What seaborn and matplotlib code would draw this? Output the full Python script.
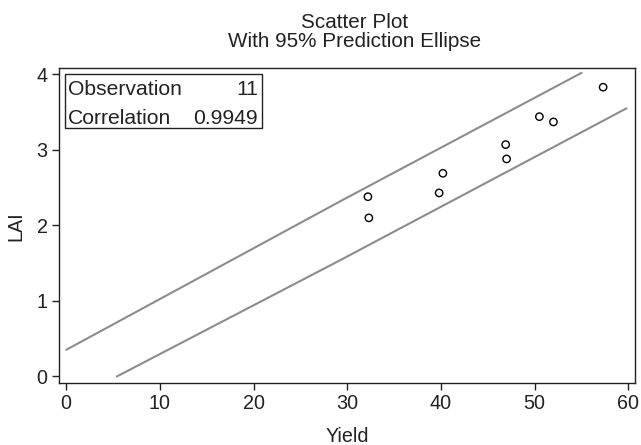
import numpy as np
import pandas as pd
import seaborn as sns
import matplotlib.pyplot as plt
from matplotlib.patches import Rectangle

# data
yield_vals = [32.2, 32.3, 39.8, 40.2, 46.9, 47.0, 50.5, 52.0, 57.3, 46.9, 32.2]
lai_vals = [2.38, 2.10, 2.43, 2.69, 3.07, 2.88, 3.44, 3.37, 3.83, 3.07, 2.38]

# visible parts of the 95% prediction ellipse
upper_x = [0.0, 29.4, 55.0]
upper_y = [0.353, 2.33, 4.02]
lower_x = [5.4, 29.4, 59.8]
lower_y = [0.0, 1.55, 3.55]

stats_labels = ['Observation', 'Correlation']
stats_values = ['11', '0.9949']

xticks = [0, 10, 20, 30, 40, 50, 60]
yticks = [0, 1, 2, 3, 4]

sns.set_style('white')
plt.rcParams['font.family'] = ['Liberation Sans', 'DejaVu Sans']

df = pd.DataFrame({'Yield': yield_vals, 'LAI': lai_vals})
df = df.drop_duplicates()  # overlapping observations, drawn once

fig = plt.figure(figsize=(6.41, 4.45), dpi=100)
ax = fig.add_axes([0.0916, 0.1387, 0.899, 0.7078])

sns.lineplot(x=upper_x, y=upper_y, ax=ax, color='#8c8c8c', lw=1.5, sort=False)
sns.lineplot(x=lower_x, y=lower_y, ax=ax, color='#8c8c8c', lw=1.5, sort=False)
sns.scatterplot(data=df, x='Yield', y='LAI', ax=ax, marker='o', s=28,
                fc='none', ec='black', linewidth=1.0, zorder=3)

ax.set_xlim(-0.8, 60.7)
ax.set_ylim(-0.09, 4.08)
ax.set_xticks(xticks)
ax.set_yticks(yticks)
ax.tick_params(axis='both', direction='out', length=5, width=1, color='#222222',
               labelsize=14.2, labelcolor='#222222', left=True, bottom=True, pad=3)
for sp in ax.spines.values():
    sp.set_visible(True)
    sp.set_color('#222222')
    sp.set_linewidth(1.0)

ax.set_xlabel('Yield', fontsize=14.2, color='#222222', labelpad=9.5)
ax.set_ylabel('LAI', fontsize=14.2, color='#222222', labelpad=8)
ax.set_title('Scatter Plot\nWith 95% Prediction Ellipse', fontsize=14.9,
             color='#222222', pad=15, linespacing=1.05, x=0.514)

# stats box
ax.add_patch(Rectangle((0.011, 0.81), 0.341, 0.172, transform=ax.transAxes,
                       fill=False, ec='#222222', lw=1.0, zorder=4))
row_y = [0.933, 0.841]
for lab, val, yy in zip(stats_labels, stats_values, row_y):
    ax.text(0.016, yy, lab, transform=ax.transAxes, ha='left', va='center',
            fontsize=15.2, color='#222222')
    ax.text(0.3457, yy, val, transform=ax.transAxes, ha='right', va='center',
            fontsize=15.2, color='#222222')

fig.savefig('out.png', dpi=100)
